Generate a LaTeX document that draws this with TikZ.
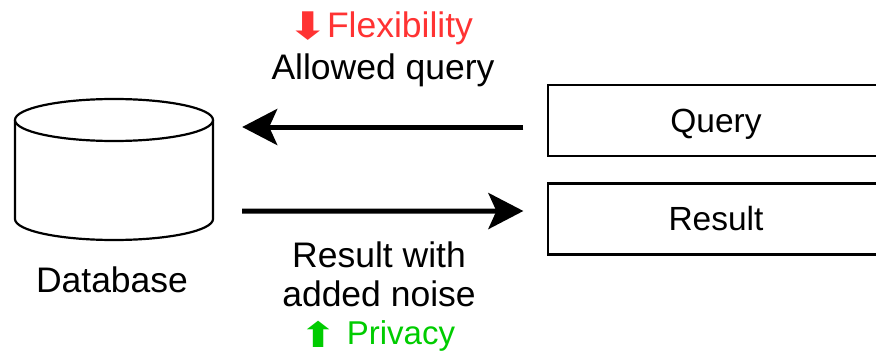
\documentclass[tikz,border=0pt]{standalone}
\usepackage{fontspec}
\setmainfont{Liberation Sans}
\newfontfamily\symfont{DejaVu Sans}
\usetikzlibrary{arrows.meta}
\definecolor{flexred}{RGB}{255,51,51}
\definecolor{privgreen}{RGB}{0,204,0}
\tikzset{
  lbl/.style={inner sep=0pt,align=center,font=\fontsize{35.5}{39}\selectfont,text=black},
  sym/.style={inner sep=0pt,font=\symfont\fontsize{38}{38}\selectfont,xscale=1.3},
  boxnode/.style={draw=black,line width=2.2pt,minimum width=336pt,minimum height=71pt,inner sep=0pt,font=\fontsize{33.5}{40}\selectfont},
  dbline/.style={draw=black,line width=2.2pt,fill=white},
  flow/.style={draw=black,line width=5pt,-{Stealth[length=35pt,width=36pt,inset=8pt]}},
  ghost/.style={inner sep=0pt,minimum width=198pt,minimum height=141pt}
}
\begin{document}
\begin{tikzpicture}[x=1pt,y=-1pt]
\useasboundingbox (0,0) rectangle (876,353);
% database
\node[ghost] (db) at (114,169.5) {};
\path[dbline] (15,120) -- (15,219) arc[start angle=180,end angle=0,x radius=99,y radius=21] -- (213,120);
\path[dbline] (114,120) ellipse[x radius=99,y radius=21];
\node[lbl,anchor=base] (dblabel) at (112,292) {Database};
% boxes
\node[boxnode] (query) at (716,120.5) {};
\node[boxnode] (result) at (716,219) {};
\node[font=\fontsize{33.5}{40}\selectfont,inner sep=0pt,anchor=base] (qtext) at (716,132) {Query};
\node[font=\fontsize{33.5}{40}\selectfont,inner sep=0pt,anchor=base] (rtext) at (716,230) {Result};
% connectors
\coordinate (qfrom) at ([shift={(-23.5pt,-6.5pt)}]query.west);
\coordinate (qto) at ([shift={(29pt,42.5pt)}]db.east);
\coordinate (rfrom) at ([shift={(29pt,29pt)}]db.east |- db.south);
\coordinate (rto) at ([shift={(-23.5pt,8pt)}]result.west);
\draw[flow] (qfrom) -- (qto);
\draw[flow] (rfrom) -- (rto);
% labels
\node[sym,text=flexred] (flexarrow) at (308.5,26) {⬇};
\node[lbl,text=flexred,anchor=base] (flex) at (400,38) {Flexibility};
\node[lbl,anchor=base] (allowed) at (383,80) {Allowed query};
\node[lbl] (noise) at (379,274.5) {Result with\\added noise};
\node[sym,text=privgreen,font=\symfont\fontsize{35}{35}\selectfont] (privarrow) at (319,334) {⬆};
\node[lbl,text=privgreen,anchor=base,font=\fontsize{33}{39}\selectfont] (priv) at (401,344.5) {Privacy};
\end{tikzpicture}
\end{document}
